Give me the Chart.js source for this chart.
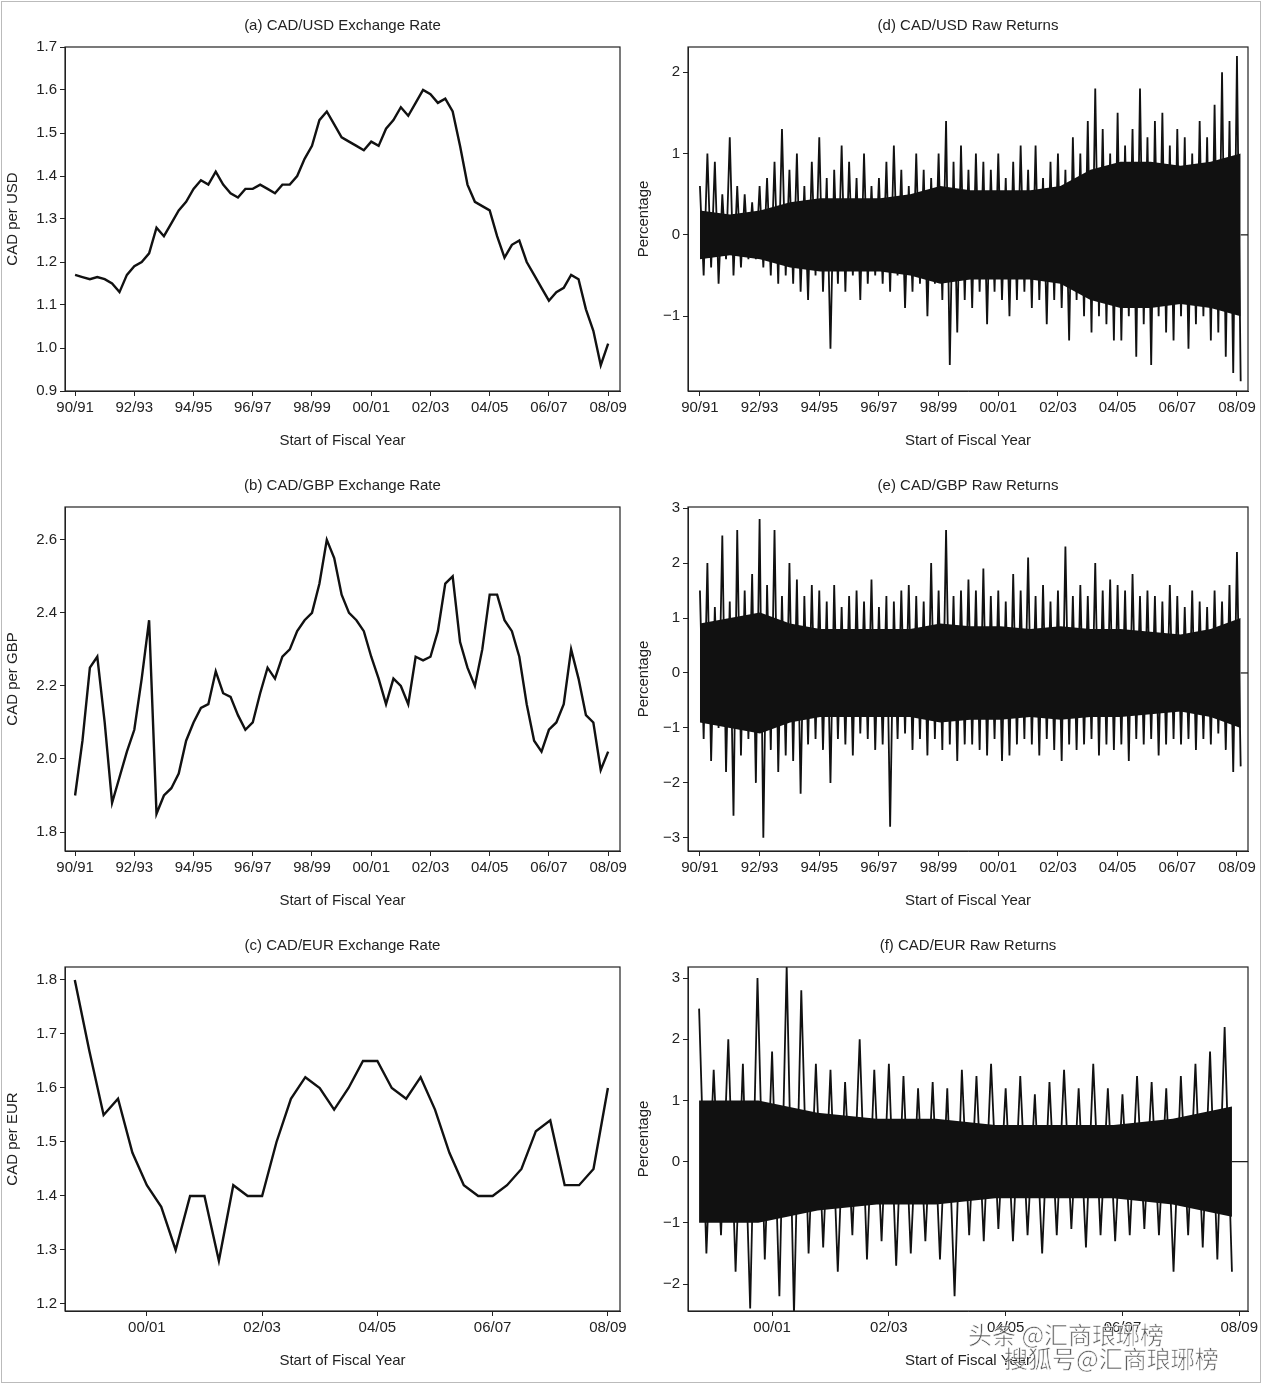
<!DOCTYPE html>
<html><head><meta charset="utf-8">
<script src="https://cdn.jsdelivr.net/npm/chart.js@4"></script>
<style>
body{margin:0;background:#fff;width:1262px;height:1384px;position:relative;overflow:hidden;font-family:"Liberation Sans",Arial,sans-serif}
.p{position:absolute;width:631px;height:460px}
#frame{position:absolute;left:1px;top:1px;width:1258px;height:1380px;border:1px solid #bbb}
.wm{position:absolute;font-family:"Noto Sans CJK SC";font-size:24px;color:rgba(40,40,40,0.75);-webkit-text-stroke:0.6px #fff}
</style></head><body>
<div id="frame"></div>
<div class="p" style="left:0;top:0"><canvas id="a"></canvas></div>
<div class="p" style="left:631px;top:0"><canvas id="d"></canvas></div>
<div class="p" style="left:0;top:460px"><canvas id="b"></canvas></div>
<div class="p" style="left:631px;top:460px"><canvas id="e"></canvas></div>
<div class="p" style="left:0;top:920px"><canvas id="c"></canvas></div>
<div class="p" style="left:631px;top:920px"><canvas id="f"></canvas></div>
<div class="wm" style="left:968px;top:1316px">头条 @汇商琅琊榜</div>
<div class="wm" style="left:1004px;top:1340px">搜狐号@汇商琅琊榜</div>
<script>
// quarterly exchange rates, start 1990.0 (USD, GBP) and 1998.75 (EUR)
const usdRate=[1.17,1.165,1.16,1.165,1.16,1.15,1.13,1.17,1.19,1.20,1.22,1.28,1.26,1.29,1.32,1.34,1.37,1.39,1.38,1.41,1.38,1.36,1.35,1.37,1.37,1.38,1.37,1.36,1.38,1.38,1.40,1.44,1.47,1.53,1.55,1.52,1.49,1.48,1.47,1.46,1.48,1.47,1.51,1.53,1.56,1.54,1.57,1.60,1.59,1.57,1.58,1.55,1.47,1.38,1.34,1.33,1.32,1.26,1.21,1.24,1.25,1.20,1.17,1.14,1.11,1.13,1.14,1.17,1.16,1.09,1.04,0.96,1.01];
const gbpRate=[1.90,2.05,2.25,2.28,2.10,1.88,1.95,2.02,2.08,2.22,2.38,1.85,1.90,1.92,1.96,2.05,2.10,2.14,2.15,2.24,2.18,2.17,2.12,2.08,2.10,2.18,2.25,2.22,2.28,2.30,2.35,2.38,2.40,2.48,2.60,2.55,2.45,2.40,2.38,2.35,2.28,2.22,2.15,2.22,2.20,2.15,2.28,2.27,2.28,2.35,2.48,2.50,2.32,2.25,2.20,2.30,2.45,2.45,2.38,2.35,2.28,2.15,2.05,2.02,2.08,2.10,2.15,2.30,2.22,2.12,2.10,1.97,2.02];
const eurRate=[1.80,1.67,1.55,1.58,1.48,1.42,1.38,1.30,1.40,1.40,1.28,1.42,1.40,1.40,1.50,1.58,1.62,1.60,1.56,1.60,1.65,1.65,1.60,1.58,1.62,1.56,1.48,1.42,1.40,1.40,1.42,1.45,1.52,1.54,1.42,1.42,1.45,1.60];
// returns spikes, 8 samples per year
const usdRet=[0.6,-0.5,1.0,-0.4,0.9,-0.6,0.5,-0.3, 1.2,-0.5,0.6,-0.4,0.5,-0.3,0.4,-0.3, 0.6,-0.4,0.7,-0.5,0.9,-0.6,1.3,-0.5, 0.8,-0.6,1.0,-0.7,0.6,-0.8,0.9,-0.5, 1.2,-0.7,0.7,-1.4,0.8,-0.6,1.1,-0.7, 0.9,-0.5,0.7,-0.8,1.0,-0.6,0.6,-0.5, 0.7,-0.6,0.9,-0.7,1.1,-0.5,0.8,-0.9, 0.6,-0.7,1.0,-0.6,0.8,-1.0,0.7,-0.6, 1.0,-0.8,1.4,-1.6,0.9,-1.2,1.1,-0.8, 0.8,-0.9,1.0,-0.7,0.9,-1.1,0.8,-0.7, 1.0,-0.8,0.7,-1.0,0.9,-0.8,1.1,-0.7, 0.8,-0.9,1.1,-0.8,0.7,-1.1,0.9,-0.8, 1.0,-0.9,0.8,-1.3,1.2,-0.8,1.0,-1.0, 1.4,-1.2,1.8,-1.0,1.3,-1.1,1.0,-1.3, 1.5,-1.3,1.1,-1.0,1.3,-1.5,1.8,-1.1, 1.2,-1.6,1.4,-1.0,1.5,-1.2,1.1,-1.3, 1.3,-1.0,1.2,-1.4,1.0,-1.1,1.4,-1.0, 1.2,-1.3,1.6,-1.2,2.0,-1.5,1.4,-1.7, 2.2,-1.8];
const gbpRet=[1.5,-1.2,2.0,-1.6,1.2,-1.0,2.5,-1.8, 1.3,-2.6,2.6,-1.5,1.5,-1.2,1.8,-2.0, 2.8,-3.0,1.6,-1.4,2.6,-1.8,1.4,-1.5, 2.0,-1.6,1.7,-2.2,1.4,-1.3,1.6,-1.2, 1.5,-1.4,1.3,-2.0,1.6,-1.2,1.2,-1.3, 1.4,-1.5,1.5,-1.1,1.3,-1.2,1.7,-1.4, 1.2,-1.3,1.4,-2.8,1.3,-1.2,1.5,-1.1, 1.6,-1.4,1.4,-1.2,1.3,-1.5,2.0,-1.2, 1.5,-1.4,2.6,-1.3,1.4,-1.6,1.5,-1.3, 1.7,-1.3,1.5,-1.4,1.9,-1.5,1.4,-1.2, 1.5,-1.6,1.3,-1.5,1.8,-1.3,1.5,-1.2, 2.1,-1.3,1.4,-1.5,1.6,-1.2,1.3,-1.4, 1.5,-1.6,2.3,-1.3,1.4,-1.4,1.6,-1.3, 1.4,-1.2,2.0,-1.5,1.5,-1.3,1.7,-1.4, 1.6,-1.3,1.5,-1.6,1.8,-1.2,1.4,-1.3, 1.5,-1.2,1.4,-1.5,1.3,-1.3,1.6,-1.2, 1.4,-1.3,1.2,-1.2,1.5,-1.4,1.3,-1.2, 1.2,-1.3,1.5,-1.1,1.3,-1.4,1.6,-1.8, 2.2,-1.7];
const eurRet=[2.5,-1.5,1.5,-1.2,2.0,-1.8,1.6,-2.4, 3.0,-1.6,1.8,-2.2,3.2,-2.5,2.8,-1.5, 1.6,-1.4,1.5,-1.8,1.3,-1.2,2.0,-1.6, 1.5,-1.3,1.6,-1.7,1.4,-1.5,1.2,-1.3, 1.3,-1.6,1.2,-2.2,1.5,-1.2,1.4,-1.3, 1.6,-1.1,1.2,-1.3,1.4,-1.2,1.1,-1.5, 1.3,-1.2,1.5,-1.1,1.2,-1.4,1.6,-1.2, 1.2,-1.3,1.1,-1.2,1.4,-1.1,1.3,-1.2, 1.2,-1.8,1.4,-1.2,1.6,-1.4,1.8,-1.6, 2.2,-1.8];
// dense-band half-width per year (the solid black core of the returns)
const usdBand=[0.3,0.25,0.3,0.4,0.45,0.45,0.45,0.5,0.6,0.55,0.55,0.55,0.6,0.8,0.9,0.9,0.85,0.9,1.0];
const gbpBand=[0.9,1.0,1.1,0.9,0.8,0.8,0.8,0.8,0.9,0.85,0.85,0.8,0.85,0.8,0.8,0.75,0.7,0.8,1.0];
const eurBand=[1.0,1.0,0.8,0.7,0.7,0.6,0.6,0.6,0.7,0.9];
const ticksFull=[1990,1992,1994,1996,1998,2000,2002,2004,2006,2008];
const ticksEur=[2000,2002,2004,2006,2008];
const yTicks={a:[0.9,1.0,1.1,1.2,1.3,1.4,1.5,1.6,1.7],b:[1.8,2.0,2.2,2.4,2.6],c:[1.2,1.3,1.4,1.5,1.6,1.7,1.8],d:[-1,0,1,2],e:[-3,-2,-1,0,1,2,3],f:[-2,-1,0,1,2,3]};

const fy=v=>{const y=v%100;return String(y).padStart(2,'0')+'/'+String((y+1)%100).padStart(2,'0');};
const FONT='"Liberation Sans", Arial, sans-serif';
const frame={id:'frame',afterDraw(ch){const a=ch.chartArea,c=ch.ctx;c.save();c.strokeStyle='#222';c.lineWidth=1.2;c.strokeRect(a.left,a.top,a.right-a.left,a.bottom-a.top);
 c.fillStyle='#222';c.font='15px '+FONT;c.textAlign='center';c.textBaseline='middle';c.fillText(ch.options.plugins.myTitle,(a.left+a.right)/2,26);c.restore();}};
function make(id,title,ytitle,vals,start,perYear,xmin,xmax,xt,ymin,ymax,lw,left,right,dec,band){
 const data=vals.map((v,i)=>({x:start+i/perYear,y:v}));
 const end=start+(vals.length-1)/perYear;
 const ds=[];
 if(band){
  const bx=i=>start+i*(end-start)/(band.length-1);
  ds.push({data:band.map((v,i)=>({x:bx(i),y:v})),borderWidth:0,pointRadius:0,backgroundColor:'#111',fill:'+1'});
  ds.push({data:band.map((v,i)=>({x:bx(i),y:-v})),borderWidth:0,pointRadius:0,fill:false});
 }
 ds.push({data,borderColor:'#111',borderWidth:lw,pointRadius:0,tension:0});
 if(band) ds.push({data:[{x:end,y:0},{x:xmax,y:0}],borderColor:'#111',borderWidth:1.2,pointRadius:0});
 new Chart(document.getElementById(id),{type:'line',data:{datasets:ds},
 options:{responsive:true,maintainAspectRatio:false,animation:false,
  layout:{padding:{top:47,right:right,bottom:10,left:0}},
  plugins:{legend:{display:false},tooltip:{enabled:false},myTitle:title,filler:{propagate:false}},
  scales:{
   x:{type:'linear',min:xmin,max:xmax,afterBuildTicks:s=>{s.ticks=xt.map(v=>({value:v}))},afterFit:s=>{s.height=59},
    grid:{drawOnChartArea:false,tickLength:5,color:'#222'},border:{color:'#222'},
    ticks:{color:'#222',font:{size:15,family:FONT},padding:3,maxRotation:0,autoSkip:false,callback:v=>fy(v)},
    title:{display:true,text:'Start of Fiscal Year',color:'#222',font:{size:15,family:FONT},padding:{top:4,bottom:0}}},
   y:{min:ymin,max:ymax,afterBuildTicks:s=>{s.ticks=yTicks[id].map(v=>({value:v}))},afterFit:s=>{s.width=left},
    grid:{drawOnChartArea:false,tickLength:5,color:'#222'},border:{color:'#222'},
    ticks:{color:'#222',font:{size:15,family:FONT},padding:3,callback:v=>dec?v.toFixed(dec):String(v).replace('-','\u2212')},
    title:{display:true,text:ytitle,color:'#222',font:{size:15,family:FONT},padding:{top:4,bottom:4}}}}},
 plugins:[frame]});
}
make('a','(a) CAD/USD Exchange Rate','CAD per USD',usdRate,1990,4,1989.66,2008.4,ticksFull,0.9,1.7,2.4,65,11,1,null);
make('b','(b) CAD/GBP Exchange Rate','CAD per GBP',gbpRate,1990,4,1989.66,2008.4,ticksFull,1.748,2.69,2.4,65,11,1,null);
make('c','(c) CAD/EUR Exchange Rate','CAD per EUR',eurRate,1998.75,4,1998.58,2008.21,ticksEur,1.187,1.824,2.4,65,11,1,null);
make('d','(d) CAD/USD Raw Returns','Percentage',usdRet,1990,8,1989.6,2008.37,ticksFull,-1.92,2.31,1.8,57,14,0,usdBand);
make('e','(e) CAD/GBP Raw Returns','Percentage',gbpRet,1990,8,1989.6,2008.37,ticksFull,-3.24,3.02,1.8,57,14,0,gbpBand);
make('f','(f) CAD/EUR Raw Returns','Percentage',eurRet,1998.75,8,1998.56,2008.15,ticksEur,-2.44,3.18,1.8,57,14,0,eurBand);
</script></body></html>
